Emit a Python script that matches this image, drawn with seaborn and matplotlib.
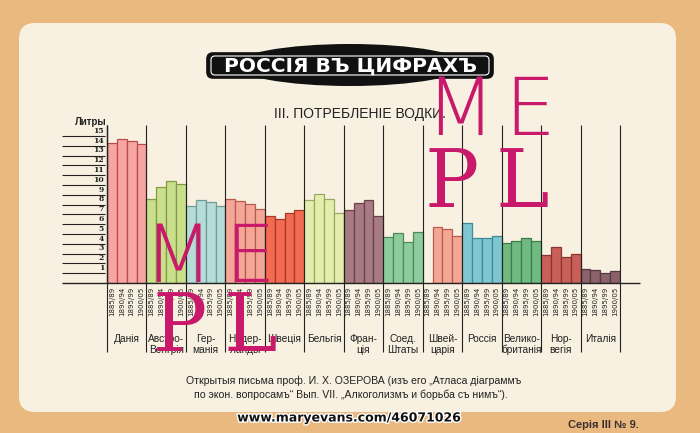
import numpy as np
import pandas as pd
import seaborn as sns
import matplotlib.pyplot as plt
import matplotlib.patheffects as pe
from matplotlib.patches import FancyBboxPatch, Ellipse

# ---------------- data ----------------
countries = ["Данія", "Австро-Венгрія", "Германія", "Нидерланды", "Швеція",
             "Бельгія", "Франція", "Соед. Штаты", "Швейцарія", "Россія",
             "Великобританія", "Норвегія", "Италія"]
country_labels = ["Данія", "Австро-\nВенгрія", "Гер-\nманія", "Нидер-\nланды",
                  "Швеція", "Бельгія", "Фран-\nція", "Соед.\nШтаты",
                  "Швей-\nцарія", "Россія", "Велико-\nбританія", "Нор-\nвегія",
                  "Италія"]
periods = ["1885/89", "1890/94", "1895/99", "1900/05"]
litres = [
    [14.3, 14.7, 14.5, 14.2],   # Данія
    [8.6, 9.8, 10.4, 10.1],     # Австро-Венгрія
    [7.9, 8.5, 8.3, 7.9],       # Германія
    [8.6, 8.4, 8.1, 7.6],       # Нидерланды
    [6.8, 6.5, 7.1, 7.4],       # Швеція
    [8.5, 9.1, 8.6, 7.1],       # Бельгія
    [7.4, 8.2, 8.5, 6.8],       # Франція
    [4.7, 5.1, 4.2, 5.2],       # Соед. Штаты
    [np.nan, 5.7, 5.5, 4.8],    # Швейцарія
    [6.1, 4.6, 4.6, 4.8],       # Россія
    [4.1, 4.3, 4.6, 4.3],       # Великобританія
    [2.9, 3.7, 2.7, 3.0],       # Норвегія
    [1.4, 1.3, 1.0, 1.2],       # Италія
]
y_ticks = list(range(1, 16))
fills = ["#f6a5a3", "#cadf8c", "#b6dcd8", "#f4a796", "#f26a50", "#e4eeac",
         "#a87b83", "#8ecb9d", "#f5a796", "#80c6d1", "#6fba80", "#c85f58",
         "#8b626a"]
edges = ["#b84c4a", "#7f9b45", "#6f9b98", "#b85a4f", "#a83a2a", "#9aa862",
         "#6a4249", "#4c8a5c", "#b85a4c", "#3d8b98", "#3c7b4a", "#8a3530",
         "#553840"]

# ---------------- table ----------------
rows = []
for ci, c in enumerate(countries):
    for pi, p in enumerate(periods):
        rows.append({"slot": f"{c} {p}", "country": c, "period": p,
                     "value": litres[ci][pi]})
df = pd.DataFrame(rows)
slot_order = list(df["slot"])

W, H = 700, 433
BG = "#e9b97f"
CARD = "#f8f1e1"
INK = "#222222"
SANS = ["Liberation Sans", "DejaVu Sans"]


def fx(x):
    return x / W


def fy(y):
    return 1 - y / H


fig = plt.figure(figsize=(7, 4.33), dpi=100)
fig.patch.set_facecolor(BG)

# background / decoration axes in pixel coordinates
bg = fig.add_axes([0, 0, 1, 1], zorder=0)
bg.set_xlim(0, W)
bg.set_ylim(H, 0)
bg.axis("off")
bg.add_patch(FancyBboxPatch((19, 23), 657, 389,
                            boxstyle="round,pad=0,rounding_size=16",
                            fc=CARD, ec="none"))
# banner
bg.add_patch(Ellipse((350, 65), 230, 42, fc="#111111", ec="none"))
bg.add_patch(FancyBboxPatch((207, 53), 286, 25,
                            boxstyle="round,pad=0,rounding_size=6",
                            fc="#111111", ec="#111111", lw=1.2))
bg.add_patch(FancyBboxPatch((211, 56), 278, 19,
                            boxstyle="round,pad=0,rounding_size=4",
                            fc="none", ec="white", lw=0.8))
bg.text(350, 66, "РОССІЯ ВЪ ЦИФРАХЪ", color="white", fontsize=14.5,
        fontweight="bold", ha="center", va="center", family="DejaVu Sans")
bg.text(360, 114, "III. ПОТРЕБЛЕНІЕ ВОДКИ.", color=INK, fontsize=10,
        ha="center", va="center", family=SANS)

# ---------------- chart axes ----------------
x0, x1, ybase, ytop = 107, 620, 283, 283 - 15.5 * 9.8
ax = fig.add_axes([fx(x0), fy(ybase), (x1 - x0) / W, (ybase - ytop) / H],
                  zorder=1)
ax.patch.set_alpha(0)
sns.barplot(data=df, x="slot", y="value", hue="country", order=slot_order,
            hue_order=countries, palette=dict(zip(countries, fills)),
            dodge=False, width=1.0, saturation=1, legend=False, ax=ax,
            linewidth=0.9, err_kws={"linewidth": 0})
for cont, ec in zip(ax.containers, edges):
    for bar in cont:
        bar.set_edgecolor(ec)
ax.set_xlim(-0.5, len(slot_order) - 0.5)
ax.set_ylim(0, 15.5)
for s in ax.spines.values():
    s.set_visible(False)
ax.set_xticks([])
ax.set_yticks([])
ax.set_xlabel("")
ax.set_ylabel("")

ytr = ax.get_yaxis_transform()
xtr = ax.get_xaxis_transform()
lx = (62 - x0) / (x1 - x0)
rx = (640 - x0) / (x1 - x0)
# left scale lines and labels
ax.hlines(y_ticks, lx, -0.004, transform=ytr, color=INK, lw=0.8,
          clip_on=False)
for t in y_ticks:
    ax.text(-0.006, t + 0.12, str(t), transform=ytr, ha="right", va="bottom",
            fontsize=5.5, fontweight="bold", family="DejaVu Serif", color=INK)
ax.text(0.0, 15.9, "Литры", transform=ytr, ha="right", va="bottom",
        fontsize=7, fontweight="bold", family=SANS, color=INK)
# baseline
ax.hlines(0, lx, rx, transform=ytr, color=INK, lw=1.0, clip_on=False)
# vertical separators
ysep_top = (ybase - 125) / (ybase - ytop)
ysep_bot = -(352 - ybase) / (ybase - ytop)
for g in range(len(countries) + 1):
    ax.vlines(g * 4 - 0.5, ysep_bot, ysep_top, transform=xtr, color=INK,
              lw=0.8, clip_on=False)
ax.vlines(-0.5, 0, ysep_top, transform=xtr, color=INK, lw=1.0, clip_on=False)

# period labels and country names
ylab = -(287 - ybase) / (ybase - ytop)
yname = -(334 - ybase) / (ybase - ytop)
for i, row in df.iterrows():
    ax.text(i, ylab, row["period"], transform=xtr, rotation=90, ha="center",
            va="top", fontsize=5, family="DejaVu Sans", color=INK)
for g, name in enumerate(country_labels):
    ax.text(g * 4 + 1.5, yname, name, transform=xtr, ha="center", va="top",
            fontsize=7.3, family=SANS, color=INK, linespacing=1.1)

# footer
fig.text(fx(354), fy(381), "Открытыя письма проф. И. Х. ОЗЕРОВА (изъ его „Атласа діаграммъ",
         ha="center", va="center", fontsize=7.6, color=INK, family=SANS)
fig.text(fx(351), fy(395), "по экон. вопросамъ“ Вып. VII. „Алкоголизмъ и борьба съ нимъ“).",
         ha="center", va="center", fontsize=7.6, color=INK, family=SANS)
fig.text(fx(603), fy(425), "Серія III № 9.", ha="center", va="center",
         fontsize=8, fontweight="bold", color="#3a3030", family=SANS)
fig.text(fx(349), fy(418), "www.maryevans.com/46071026", ha="center",
         va="center", fontsize=9, fontweight="bold", color="#111111",
         family="DejaVu Sans",
         path_effects=[pe.withStroke(linewidth=2, foreground="white")])

# watermark
WM = "#c8196b"
for (x, y, s, fam, fs) in [(460, 113, "M", "DejaVu Sans", 58), (530, 113, "E", "DejaVu Sans", 58),
                           (452, 185, "P", "DejaVu Serif", 58), (522, 185, "L", "DejaVu Serif", 58),
                           (178, 260, "M", "DejaVu Sans", 58), (250, 260, "E", "DejaVu Sans", 58),
                           (180, 329, "P", "DejaVu Serif", 58), (250, 329, "L", "DejaVu Serif", 58)]:
    fig.text(fx(x), fy(y), s, ha="center", va="center", fontsize=fs,
             color=WM, family=fam, fontweight="light", zorder=5)

fig.savefig("out.png", dpi=100, facecolor=fig.get_facecolor())
